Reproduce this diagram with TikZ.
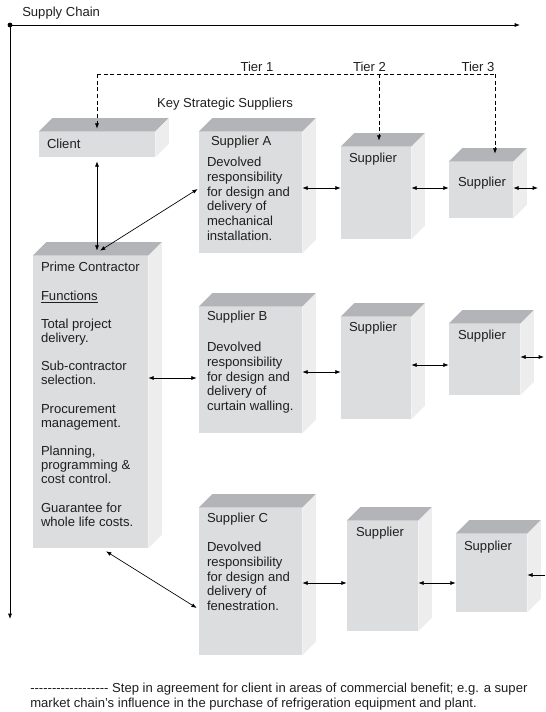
\documentclass[tikz,border=0pt]{standalone}
\usepackage{fontspec}
\setmainfont{Liberation Sans}
\usetikzlibrary{arrows.meta, calc, fit}
\definecolor{facefront}{HTML}{DCDDDF}
\definecolor{facetop}{HTML}{B3B4B7}
\definecolor{faceside}{HTML}{EDEDEE}

\begin{document}
\begin{tikzpicture}[
    x=0.75pt, y=-0.75pt,
    every node/.style={font=\fontsize{9.8}{11}\selectfont, text=black!88, inner sep=0pt},
    face/.style={fill=facefront, inner sep=0pt},
    txt/.style={align=left, anchor=base west},
    para/.style={align=left, anchor=north west},
    link/.style={<->, line width=0.5pt},
    dashline/.style={line width=0.5pt, dash pattern=on 3pt off 2pt},
    >={Latex[length=4pt,width=3pt]},
  ]
  \useasboundingbox (0,0) rectangle (545,712);

  % supply chain axes
  \coordinate (origin) at (10,25);
  \coordinate (chainend) at (520,25);
  \coordinate (axisend) at (10,619);
  \draw[->, line width=0.5pt] (origin) -- (chainend);
  \draw[->, line width=0.5pt] (origin) -- (axisend);
  \fill (origin) circle (1.8pt);
  \node[anchor=west] (chain) at (22,13) {Supply Chain};

  % tiers
  \node (tier1) at (257,67) {Tier 1};
  \node (tier2) at (369.5,67) {Tier 2};
  \node (tier3) at (478,67) {Tier 3};
  \node (kss) at (225,104) {Key Strategic Suppliers};

  % front faces
  \node[face, fit={(39,132) (155,157)}] (cl) {};
  \node[face, fit={(33,256) (148,548)}] (pc) {};
  \node[face, fit={(199,132) (302,253)}] (sa) {};
  \node[face, fit={(199,307) (302,433)}] (sb) {};
  \node[face, fit={(199,508) (302,655)}] (sc) {};
  \node[face, fit={(341,147) (411,239)}] (sa2) {};
  \node[face, fit={(449,162) (513,218)}] (sa3) {};
  \node[face, fit={(341,317) (411,419)}] (sb2) {};
  \node[face, fit={(449,324) (520,395)}] (sb3) {};
  \node[face, fit={(347,521) (418,631)}] (sc2) {};
  \node[face, fit={(456,534) (527,612)}] (sc3) {};

  % top and side faces
  \foreach \b in {cl,pc,sa,sb,sc,sa2,sa3,sb2,sb3,sc2,sc3} {
    \fill[facetop] (\b.north west) -- ++(13.5,-13.5) -- ($(\b.north east)+(13.5,-13.5)$) -- (\b.north east) -- cycle;
    \fill[faceside] (\b.north east) -- ++(13.5,-13.5) -- ($(\b.south east)+(13.5,-13.5)$) -- (\b.south east) -- cycle;
  }

  % box texts
  \node[txt] (clt) at ([shift={(8,17)}]cl.north west) {Client};
  \node[para, font=\fontsize{9.8}{10.7}\selectfont] (pct) at ([shift={(8,6.5)}]pc.north west)
    {Prime Contractor\\[10.4pt]\underline{Functions}\\[10.4pt]Total project\\delivery.\\[10.4pt]Sub-contractor\\selection.\\[10.4pt]Procurement\\management.\\[10.4pt]Planning,\\programming \&\\cost control.\\[10.4pt]Guarantee for\\whole life costs.};
  \node[para] (sat) at ([shift={(8,4.5)}]sa.north west)
    {\hspace*{3pt}Supplier A\\[4.75pt]Devolved\\responsibility\\for design and\\delivery of\\mechanical\\installation.};
  \node[para] (sbt) at ([shift={(8,4.5)}]sb.north west)
    {Supplier B\\[12.25pt]Devolved\\responsibility\\for design and\\delivery of\\curtain walling.};
  \node[para] (sct) at ([shift={(8,5.5)}]sc.north west)
    {Supplier C\\[10.75pt]Devolved\\responsibility\\for design and\\delivery of\\fenestration.};
  \node[txt] (sa2t) at ([shift={(8,16)}]sa2.north west) {Supplier};
  \node[txt] (sa3t) at ([shift={(9,25)}]sa3.north west) {Supplier};
  \node[txt] (sb2t) at ([shift={(8,15)}]sb2.north west) {Supplier};
  \node[txt] (sb3t) at ([shift={(9,16)}]sb3.north west) {Supplier};
  \node[txt] (sc2t) at ([shift={(9,16)}]sc2.north west) {Supplier};
  \node[txt] (sc3t) at ([shift={(8,17)}]sc3.north west) {Supplier};

  % client step-in line
  \coordinate (dl) at (97,74);
  \coordinate (t2) at (379,74);
  \coordinate (dr) at (495,74);
  \draw[dashline] (dl) -- (dr);
  \draw[dashline,->] (dl) -- ([shift={(0,-3)}]cl.north);
  \draw[dashline,->] (t2) -- ([shift={(0,-6)}]t2 |- sa2.north);
  \draw[dashline,->] (dr) -- ([shift={(0,-8)}]dr |- sa3.north);

  % links
  \coordinate (pctop) at ([shift={(6.5,-5)}]pc.north);
  \coordinate (outa) at (538,188);
  \coordinate (outb) at (544,357);
  \coordinate (inc) at (545,575);
  \draw[link] ([shift={(0,4)}]cl.south) -- (pctop);
  \draw[link] ([shift={(3,0)}]pctop) -- ([shift={(-1,-3.5)}]sa.west);
  \draw[link] ([shift={(0,-24)}]pc.east) -- ([shift={(-2,8)}]sb.west);
  \draw[link] ([shift={(15.5,3)}]pc.south) -- ([shift={(-2,26.5)}]sc.west);
  \draw[link] (sa.east |- 0,188) -- (sa2.west |- 0,188);
  \draw[link] (sa2.east |- 0,188) -- (sa3.west |- 0,188);
  \draw[link] (sa3.east |- 0,188) -- (outa);
  \draw[link] (sb.east |- 0,372) -- (sb2.west |- 0,372);
  \draw[link] (sb2.east |- 0,365) -- (sb3.west |- 0,365);
  \draw[link] (sb3.east |- 0,357) -- (outb);
  \draw[link] (sc.east |- 0,583) -- (sc2.west |- 0,583);
  \draw[link] (sc2.east |- 0,583) -- (sc3.west |- 0,583);
  \draw[->, line width=0.5pt] (inc) -- (sc3.east |- inc);

  % note
  \node[para, font=\fontsize{9.8}{11.6}\selectfont] (note) at (30,682.5)
    {-{}-{}-{}-{}-{}-{}-{}-{}-{}-{}-{}-{}-{}-{}-{}-{}-{}- Step in agreement for client in areas of commercial benefit; e.g. a super\\market chain’s influence in the purchase of refrigeration equipment and plant.};
\end{tikzpicture}
\end{document}
